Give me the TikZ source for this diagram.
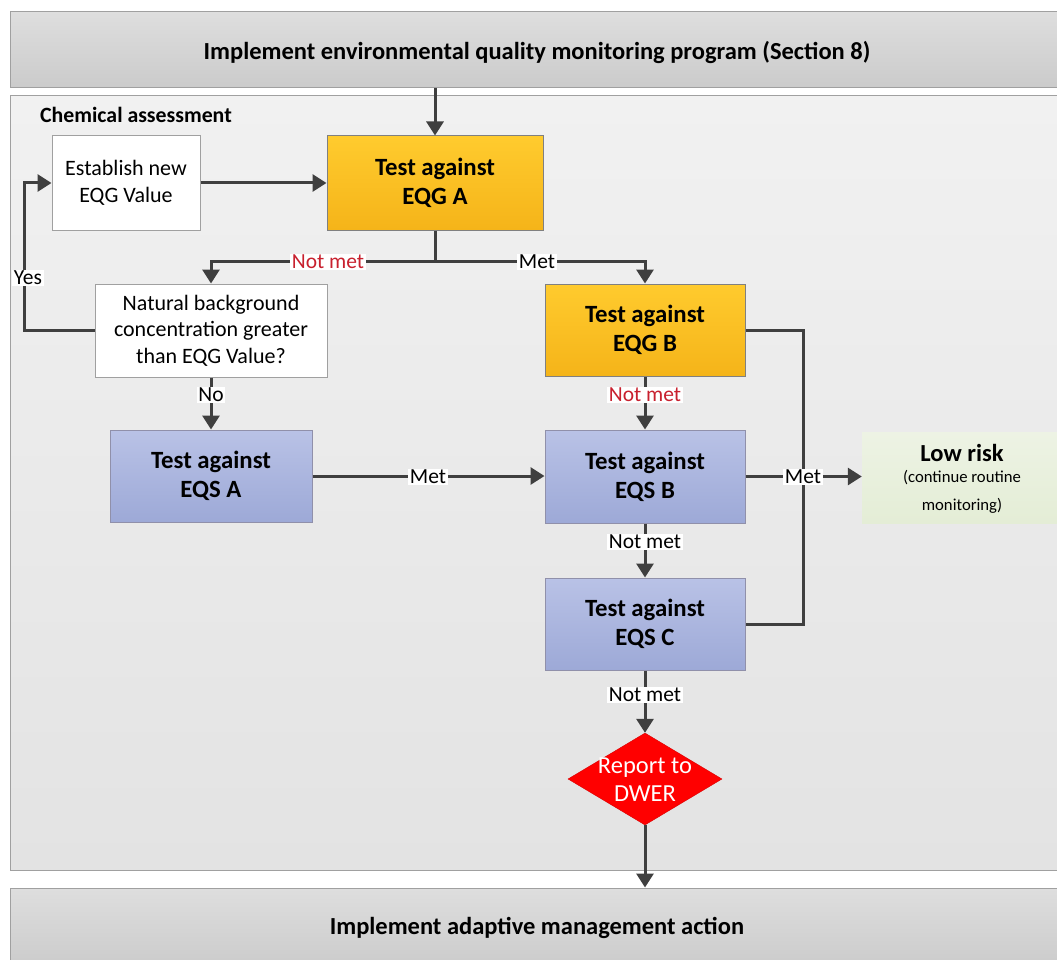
\documentclass[tikz,border=0pt]{standalone}
\usepackage{fontspec}
\setmainfont{Carlito}
\usetikzlibrary{arrows.meta,shapes.geometric,calc}
\definecolor{lineC}{HTML}{3F3F3F}
\definecolor{redT}{HTML}{C8202E}
\definecolor{orTop}{HTML}{FFCB2E}
\definecolor{orBot}{HTML}{F5B419}
\definecolor{blTop}{HTML}{B9C2E6}
\definecolor{blBot}{HTML}{9DA9D7}
\definecolor{grTop}{HTML}{DEDEDE}
\definecolor{grBot}{HTML}{CBCBCB}
\definecolor{pnTop}{HTML}{F1F1F1}
\definecolor{pnBot}{HTML}{E3E3E3}
\definecolor{lgTop}{HTML}{EDF3E4}
\definecolor{lgBot}{HTML}{E4EDD6}
\definecolor{bordC}{HTML}{A0A0A0}
\begin{document}
\begin{tikzpicture}[x=1pt,y=-1pt,
  every node/.style={inner sep=0pt, align=center},
  banner/.style={draw=bordC, line width=1pt, top color=grTop, bottom color=grBot, font=\fontsize{24.5}{29}\selectfont\bfseries},
  whitebox/.style={draw=bordC, line width=1pt, fill=white, font=\fontsize{22}{26.5}\selectfont},
  orbox/.style={draw=bordC!80!black, line width=1pt, top color=orTop, bottom color=orBot, font=\fontsize{24.8}{29}\selectfont\bfseries},
  blbox/.style={draw=bordC!90!blue, line width=1pt, top color=blTop, bottom color=blBot, font=\fontsize{24.8}{29}\selectfont\bfseries},
  conn/.style={draw=lineC, line width=3pt},
  arr/.style={conn, -{Triangle[length=14pt,width=17pt]}},
  lbl/.style={fill=white, inner sep=1.5pt, font=\fontsize{21.5}{26}\selectfont},
  redlbl/.style={lbl, text=redT}
]
\useasboundingbox (0,0) rectangle (1057,960);
% banners and panel
\node[banner, minimum width=1054pt, minimum height=76pt] (top) at (537,50) {};
\node[font=\fontsize{24.5}{29}\selectfont\bfseries] (topt) at (537,52) {Implement environmental quality monitoring program (Section 8)};
\node[draw=bordC, line width=1pt, top color=pnTop, bottom color=pnBot, minimum width=1060pt, minimum height=774pt] (panel) at (540,483) {};
\node[banner, minimum width=1054pt, minimum height=80pt] (bot) at (537,928) {Implement adaptive management action};
\node[anchor=west, font=\fontsize{21.8}{25}\selectfont\bfseries] (chem) at (40,115) {Chemical assessment};
% boxes
\node[whitebox, minimum width=148pt, minimum height=94pt] (est) at (126,183) {Establish new\\EQG Value};
\node[orbox, minimum width=216pt, minimum height=94pt] (eqga) at (435,183) {Test against\\EQG A};
\node[whitebox, minimum width=232pt, minimum height=93pt] (nat) at (211,330.5) {Natural background\\concentration greater\\than EQG Value?};
\node[orbox, minimum width=200pt, minimum height=92pt] (eqgb) at (645,330) {Test against\\EQG B};
\node[blbox, minimum width=202pt, minimum height=92pt] (eqsa) at (211,476) {Test against\\EQS A};
\node[blbox, minimum width=200pt, minimum height=93pt] (eqsb) at (645,476.5) {Test against\\EQS B};
\node[blbox, minimum width=200pt, minimum height=92pt] (eqsc) at (645,624) {Test against\\EQS C};
\node[diamond, fill=red, draw=red!85!black, minimum width=154pt, minimum height=92pt] (dwer) at (645,779) {};
\node[text=white, font=\fontsize{24.5}{28}\selectfont] (dwert) at (645,780) {Report to\\DWER};
\node[top color=lgTop, bottom color=lgBot, minimum width=196pt, minimum height=91pt] (low) at (960,477.5) {};
\node[font=\fontsize{24.5}{27}\selectfont\bfseries] (lowt) at (962,453) {Low risk};
\node[font=\fontsize{16.7}{28}\selectfont] (lows) at (962,492) {(continue routine\\monitoring)};
% connectors
\draw[arr] (eqga.north |- top.south) -- (eqga.north);
\draw[arr] (est.east) -- (eqga.west);
\coordinate (j1) at ($(eqga.south)+(0,31)$);
\draw[conn] (eqga.south) -- (j1);
\draw[arr] (j1) -| (nat.north);
\draw[arr] (j1) -| (eqgb.north);
\coordinate (ly) at (24,330.5);
\draw[arr] (nat.west) -- (ly) |- (est.west);
\draw[arr] (nat.south) -- (eqsa.north);
\draw[arr] (eqsa.east) -- (eqsa.east -| eqsb.west);
\draw[arr] (eqgb.south) -- (eqsb.north);
\draw[arr] (eqsb.south) -- (eqsc.north);
\draw[arr] (eqsc.south) -- (dwer.north);
\draw[arr] (dwer.south) -- (dwer.south |- bot.north);
\coordinate (rx) at (803,330);
\draw[conn] (eqgb.east) -- (rx) |- (eqsc.east);
\draw[arr] (eqsb.east) -- (eqsb.east -| low.west);
% labels
\node[redlbl] (l1) at (328,262) {Not met};
\node[lbl] (l2) at (537,262) {Met};
\node[lbl] (l3) at (28,278) {Yes};
\node[lbl] (l4) at (211,395) {No};
\node[lbl] (l5) at (428,477) {Met};
\node[redlbl] (l6) at (645,395) {Not met};
\node[lbl] (l7) at (803,477) {Met};
\node[lbl] (l8) at (645,542) {Not met};
\node[lbl] (l9) at (645,695) {Not met};
\end{tikzpicture}
\end{document}
